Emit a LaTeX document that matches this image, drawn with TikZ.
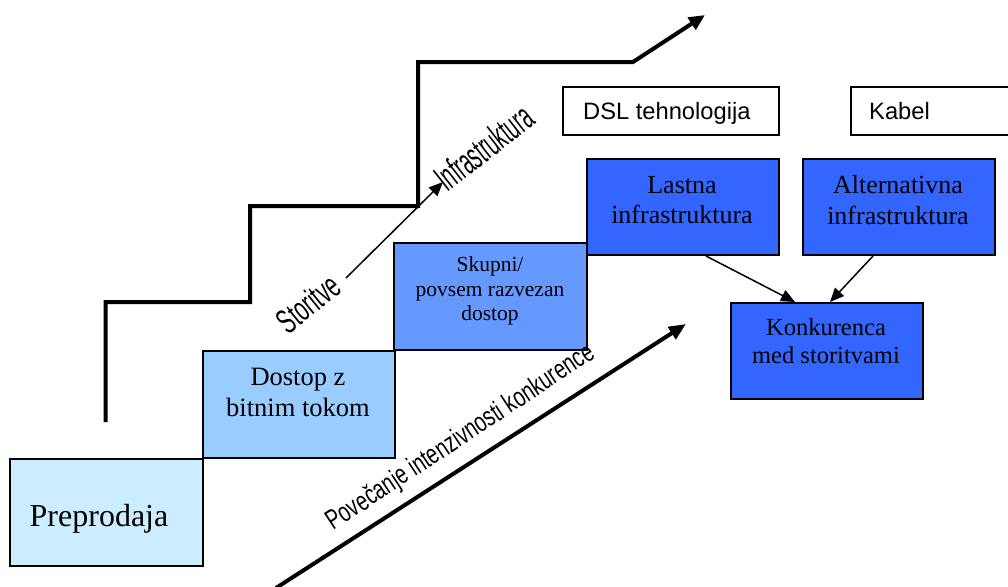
\documentclass[tikz,border=0pt]{standalone}
\usepackage{fontspec}
\setmainfont{Liberation Serif}
\newfontfamily\arialf{Liberation Sans}
\usetikzlibrary{arrows.meta,calc}
\definecolor{c1}{RGB}{204,236,255}
\definecolor{c2}{RGB}{153,204,255}
\definecolor{c3}{RGB}{102,153,255}
\definecolor{c4}{RGB}{51,102,255}
\begin{document}
\begin{tikzpicture}[x=1pt,y=-1pt,
  box/.style={draw=black, line width=2pt, inner sep=0pt, anchor=north west},
  txt/.style={inner sep=0pt, align=center, text=black},
  stair/.style={line width=4pt, line join=miter, -{Triangle[length=16pt,width=14pt]}},
  bigarrow/.style={line width=4pt, -{Triangle[length=17pt,width=14pt]}},
  thinarrow/.style={line width=1.5pt, -{Triangle[length=14pt,width=12pt]}},
  rottxt/.style={inner sep=0pt, anchor=base, font=\arialf}]
\clip (0,0) rectangle (1008,586);
\fill[white] (0,0) rectangle (1008,586);

% staircase
\coordinate (s0) at (105.5,422);
\coordinate (s1) at (105.5,302);
\coordinate (s2) at (250,302);
\coordinate (s3) at (250,206);
\coordinate (s4) at (418,206);
\coordinate (s5) at (418,62);
\coordinate (s6) at (633,62);
\coordinate (s7) at (705,15);
\draw[stair] (s0) -- (s1) -- (s2) -- (s3) -- (s4) -- (s5) -- (s6) -- (s7);

% boxes
\node[box, fill=c1, minimum width=193pt, minimum height=107pt] (pre) at (9,458) {};
\node[box, fill=c2, minimum width=192pt, minimum height=107pt] (dos) at (202,350) {};
\node[box, fill=c3, minimum width=193pt, minimum height=107pt] (sku) at (393,242) {};
\node[box, fill=c4, minimum width=192pt, minimum height=96pt] (las) at (586,158) {};
\node[box, fill=c4, minimum width=192pt, minimum height=96pt] (alt) at (802,158) {};
\node[box, fill=c4, minimum width=192pt, minimum height=96pt] (kon) at (730,302) {};
\node[box, fill=white, minimum width=216pt, minimum height=48pt] (dsl) at (562,86) {};
\node[box, fill=white, minimum width=170pt, minimum height=48pt] (kab) at (850,86) {};

% box texts
\node[txt, anchor=base, font=\fontsize{32}{36}\selectfont] (pre-t) at (99,526) {Preprodaja};
\node[txt, font=\fontsize{26.5}{31}\selectfont] (dos-t) at (298,392) {Dostop z\\bitnim tokom};
\node[txt, font=\fontsize{21.5}{24.2}\selectfont] (sku-t) at (490,291) {Skupni/\\povsem razvezan\\dostop};
\node[txt, font=\fontsize{26}{30.7}\selectfont] (las-t) at (682,200) {Lastna\\infrastruktura};
\node[txt, font=\fontsize{26}{30.7}\selectfont] (alt-t) at (898,200) {Alternativna\\infrastruktura};
\node[txt, font=\fontsize{24.5}{28.3}\selectfont] (kon-t) at (826,341) {Konkurenca\\med storitvami};
\node[txt, anchor=base west, font=\arialf\fontsize{23.7}{28}\selectfont] (dsl-t) at (583,119) {DSL tehnologija};
\node[txt, anchor=base west, font=\arialf\fontsize{23.7}{28}\selectfont] (kab-t) at (869,119) {Kabel};

% connectors between boxes
\draw[thinarrow] ($(las.south west)+(120,0)$) -- ($(kon.north west)+(65,0)$);
\draw[thinarrow] ($(alt.south west)+(71,0)$) -- ($(kon.north west)+(100,0)$);

% big arrow
\coordinate (ba0) at (276,588);
\coordinate (ba1) at (686,324);
\draw[bigarrow] (ba0) -- (ba1);
\node[rottxt, rotate=33.5, font=\arialf\fontsize{19.8}{22}\selectfont] (pov) at (465,444) {\scalebox{1}[1.4]{Povečanje intenzivnosti konkurence}};

% Storitve -> Infrastruktura
\coordinate (st0) at (346,278);
\coordinate (st1) at (443,182);
\draw[thinarrow] (st0) -- (st1);
\node[rottxt, rotate=39, font=\arialf\fontsize{24}{28}\selectfont] (stor) at (316,313) {\scalebox{0.86}[1.45]{Storitve}};
\node[rottxt, rotate=38, font=\arialf\fontsize{24}{28}\selectfont] (infra) at (492,158) {\scalebox{0.8}[1.55]{Infrastruktura}};
\end{tikzpicture}
\end{document}
